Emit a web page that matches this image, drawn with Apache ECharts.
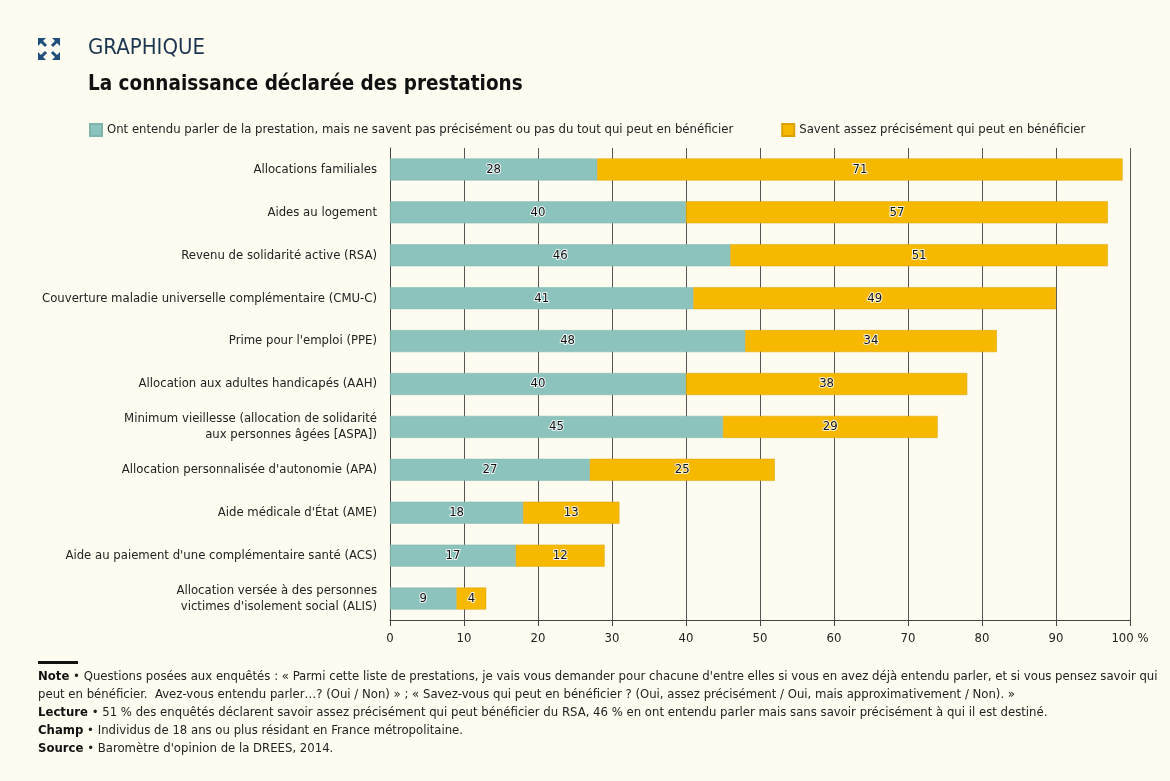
<!DOCTYPE html>
<html><head><meta charset="utf-8">
<script src="https://cdn.jsdelivr.net/npm/echarts@6/dist/echarts.min.js"></script>
<style>html,body{margin:0;padding:0;background:#fefcf0;}#c{width:1170px;height:781px;}</style>
</head><body><div id="c"></div>
<script>
const categories = [
  "Allocations familiales",
  "Aides au logement",
  "Revenu de solidarité active (RSA)",
  "Couverture maladie universelle complémentaire (CMU-C)",
  "Prime pour l'emploi (PPE)",
  "Allocation aux adultes handicapés (AAH)",
  "Minimum vieillesse (allocation de solidarité\naux personnes âgées [ASPA])",
  "Allocation personnalisée d'autonomie (APA)",
  "Aide médicale d'État (AME)",
  "Aide au paiement d'une complémentaire santé (ACS)",
  "Allocation versée à des personnes\nvictimes d'isolement social (ALIS)"
];
const heardOf = [28, 40, 46, 41, 48, 40, 45, 27, 18, 17, 9];
const knowPrecisely = [71, 57, 51, 49, 34, 38, 29, 25, 13, 12, 4];
const xTicks = [0, 10, 20, 30, 40, 50, 60, 70, 80, 90, 100];
const seriesNames = [
  "Ont entendu parler de la prestation, mais ne savent pas précisément ou pas du tout qui peut en bénéficier",
  "Savent assez précisément qui peut en bénéficier"
];
const FONT = '"Liberation Sans Narrow","DejaVu Sans Condensed","Liberation Sans",sans-serif';
const footLines = [
  "{b|Note} • Questions posées aux enquêtés : « Parmi cette liste de prestations, je vais vous demander pour chacune d'entre elles si vous en avez déjà entendu parler, et si vous pensez savoir qui",
  "peut en bénéficier.  Avez-vous entendu parler…? (Oui / Non) » ; « Savez-vous qui peut en bénéficier ? (Oui, assez précisément / Oui, mais approximativement / Non). »",
  "{b|Lecture} • 51 % des enquêtés déclarent savoir assez précisément qui peut bénéficier du RSA, 46 % en ont entendu parler mais sans savoir précisément à qui il est destiné.",
  "{b|Champ} • Individus de 18 ans ou plus résidant en France métropolitaine.",
  "{b|Source} • Baromètre d'opinion de la DREES, 2014."
];
const chart = echarts.init(document.getElementById('c'));
const labelStyle = {
  show: true, position: 'inside', color: '#111', fontSize: 13, fontFamily: FONT,
  textBorderColor: 'rgba(255,255,255,0.85)', textBorderWidth: 2
};
const iconColor = '#1f4f7a';
const graphics = [
  {type:'polygon', shape:{points:[[38,38],[46,38],[38,46]]}, style:{fill:iconColor}},
  {type:'line', shape:{x1:40,y1:40,x2:46,y2:46}, style:{stroke:iconColor, lineWidth:3}},
  {type:'polygon', shape:{points:[[60,38],[52,38],[60,46]]}, style:{fill:iconColor}},
  {type:'line', shape:{x1:58,y1:40,x2:52,y2:46}, style:{stroke:iconColor, lineWidth:3}},
  {type:'polygon', shape:{points:[[38,60],[46,60],[38,52]]}, style:{fill:iconColor}},
  {type:'line', shape:{x1:40,y1:58,x2:46,y2:52}, style:{stroke:iconColor, lineWidth:3}},
  {type:'polygon', shape:{points:[[60,60],[52,60],[60,52]]}, style:{fill:iconColor}},
  {type:'line', shape:{x1:58,y1:58,x2:52,y2:52}, style:{stroke:iconColor, lineWidth:3}},
  {type:'text', left:88, top:37, style:{text:'GRAPHIQUE', fill:'#1c3550', font:'22px '+FONT}},
  {type:'text', left:88, top:74, style:{text:'La connaissance déclarée des prestations', fill:'#111', font:'bold 20.5px '+FONT}},
  {type:'rect', shape:{x:38, y:661, width:40, height:3}, style:{fill:'#111'}}
];
footLines.forEach((t,i)=>{
  graphics.push({type:'text', left:38, top:670+i*18, style:{text:t, fill:'#222', fontSize:13, fontFamily:FONT,
    rich:{b:{fontWeight:'bold', fontSize:13, fontFamily:FONT, fill:'#111'}}}});
});
chart.setOption({
  backgroundColor: '#fefcf0',
  textStyle: {fontFamily: FONT},
  legend: {
    top: 118, left: 84, itemWidth: 12, itemHeight: 12, itemGap: 48,
    icon: 'rect',
    textStyle: {fontSize: 13, color: '#222', fontFamily: FONT},
    data: seriesNames
  },
  grid: {left: 390, right: 40, top: 148, bottom: 161, containLabel: false},
  xAxis: {
    type: 'value', min: 0, max: 100, interval: 10,
    axisLine: {show: true, lineStyle: {color: '#444'}},
    axisTick: {show: true, length: 6, lineStyle: {color: '#444'}},
    axisLabel: {fontSize: 13, color: '#222', margin: 12, fontFamily: FONT,
      formatter: v => v === 100 ? '100 %' : String(v)},
    splitLine: {show: true, lineStyle: {color: '#555', width: 1}}
  },
  yAxis: {
    type: 'category', data: categories, inverse: true,
    axisLine: {show: true, lineStyle: {color: '#444'}},
    axisTick: {show: false},
    axisLabel: {fontSize: 13, color: '#222', margin: 13, lineHeight: 16, fontFamily: FONT, align: 'right'}
  },
  series: [
    {name: seriesNames[0], type: 'bar', stack: 'a', data: heardOf, barWidth: 22,
      itemStyle: {color: '#8cc4bd', borderColor: '#7fb3ac', borderWidth: 0.5}, label: labelStyle},
    {name: seriesNames[1], type: 'bar', stack: 'a', data: knowPrecisely, barWidth: 22,
      itemStyle: {color: '#f7b900', borderColor: '#dca000', borderWidth: 0.5}, label: labelStyle}
  ],
  graphic: graphics
});
</script></body></html>
